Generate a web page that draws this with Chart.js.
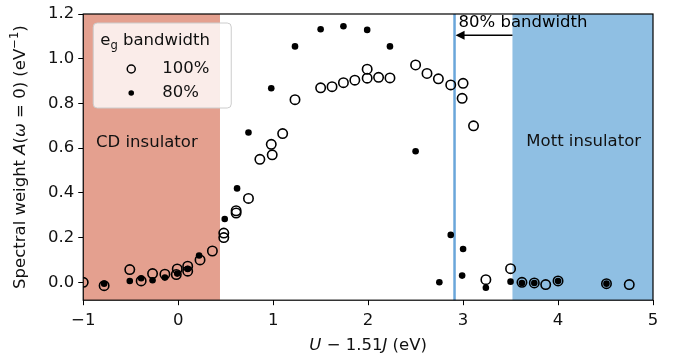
<!DOCTYPE html>
<html>
<head>
<meta charset="utf-8">
<script src="https://cdn.jsdelivr.net/npm/chart.js@4/dist/chart.umd.min.js"></script>
<style>
  html, body { margin: 0; padding: 0; background: #fff; }
  #wrap { width: 673px; height: 356px; }
</style>
</head>
<body>
<div id="wrap"><canvas id="myChart" width="673" height="356"></canvas></div>
<script>
// axis ticks
const xTicks = [-1, 0, 1, 2, 3, 4, 5];
const yTicks = [0.0, 0.2, 0.4, 0.6, 0.8, 1.0, 1.2];

// e_g bandwidth 100% (open circles)
const fullX = [-1.00, -0.78, -0.51, -0.39, -0.27, -0.14, -0.01, -0.02, 0.10, 0.10, 0.23, 0.36, 0.48, 0.48,
  0.61, 0.61, 0.74, 0.86, 0.99, 0.98, 1.10, 1.23, 1.50, 1.62, 1.74, 1.86, 1.99, 1.99, 2.11, 2.23,
  2.50, 2.62, 2.74, 2.87, 3.00, 2.99, 3.11, 3.24, 3.50, 3.62, 3.75, 3.87, 4.00, 4.51, 4.75];
const fullY = [0.000, -0.015, 0.057, 0.006, 0.039, 0.036, 0.060, 0.035, 0.072, 0.050, 0.100, 0.140, 0.220, 0.200,
  0.320, 0.310, 0.375, 0.550, 0.570, 0.617, 0.665, 0.817, 0.870, 0.875, 0.893, 0.904, 0.953, 0.913, 0.917, 0.914,
  0.972, 0.934, 0.910, 0.883, 0.890, 0.823, 0.700, 0.012, 0.061, 0.000, -0.003, -0.010, 0.006, -0.006, -0.010];

// e_g bandwidth 80% (filled dots)
const reducedX = [-0.78, -0.51, -0.39, -0.27, -0.14, -0.01, 0.10, 0.22, 0.49, 0.62, 0.74, 0.98, 1.23, 1.50,
  1.74, 1.99, 2.23, 2.50, 2.75, 2.87, 3.00, 2.99, 3.24, 3.50, 3.62, 3.75, 4.00, 4.51];
const reducedY = [-0.006, 0.006, 0.018, 0.009, 0.021, 0.039, 0.060, 0.120, 0.283, 0.420, 0.670, 0.868, 1.055, 1.132,
  1.145, 1.129, 1.055, 0.586, 0.000, 0.212, 0.149, 0.030, -0.024, 0.003, -0.003, -0.003, 0.006, -0.006];

// shaded phases and the 80% bandwidth boundary
const cdRegion = [-1, 0.44];
const mottRegion = [3.52, 5];
const bandwidthLine = 2.91;
const arrowY = 1.105;

const FONT = '"DejaVu Sans", sans-serif';
const FS = 16.5;

function drawRich(ctx, parts, x, y) {
  // parts: [text, style] with style 'n' normal, 'i' italic, 'sup', 'sub'
  let total = 0;
  const fontFor = s => (s === 'i' ? 'italic ' : '') + ((s === 'sup' || s === 'sub') ? FS * 0.7 : FS) + 'px ' + FONT;
  parts.forEach(p => { ctx.font = fontFor(p[1]); total += ctx.measureText(p[0]).width; });
  let cx = x - total / 2;
  ctx.textAlign = 'left';
  ctx.textBaseline = 'alphabetic';
  parts.forEach(p => {
    ctx.font = fontFor(p[1]);
    let dy = p[1] === 'sup' ? -FS * 0.42 : (p[1] === 'sub' ? FS * 0.22 : 0);
    ctx.fillText(p[0], cx, y + dy);
    cx += ctx.measureText(p[0]).width;
  });
}

const decor = {
  id: 'decor',
  beforeDatasetsDraw(chart) {
    const { ctx, chartArea: a, scales: { x, y } } = chart;
    ctx.save();
    ctx.fillStyle = '#e4a08f';
    ctx.fillRect(x.getPixelForValue(cdRegion[0]), a.top, x.getPixelForValue(cdRegion[1]) - x.getPixelForValue(cdRegion[0]), a.bottom - a.top);
    ctx.fillStyle = '#8fbfe3';
    ctx.fillRect(x.getPixelForValue(mottRegion[0]), a.top, x.getPixelForValue(mottRegion[1]) - x.getPixelForValue(mottRegion[0]), a.bottom - a.top);
    ctx.strokeStyle = '#6aa6da';
    ctx.lineWidth = 2.5;
    const bx = x.getPixelForValue(bandwidthLine);
    ctx.beginPath(); ctx.moveTo(bx, a.top); ctx.lineTo(bx, a.bottom); ctx.stroke();

    ctx.fillStyle = '#111';
    ctx.font = FS + 'px ' + FONT;
    ctx.textAlign = 'center';
    ctx.textBaseline = 'middle';
    ctx.fillText('CD insulator', x.getPixelForValue(-0.33), y.getPixelForValue(0.625));
    ctx.fillText('Mott insulator', x.getPixelForValue(4.27), y.getPixelForValue(0.63));

    // arrow
    const ay = y.getPixelForValue(arrowY);
    const x0 = x.getPixelForValue(mottRegion[0]), x1 = bx + 1;
    ctx.strokeStyle = '#000';
    ctx.lineWidth = 1.3;
    ctx.beginPath(); ctx.moveTo(x0, ay); ctx.lineTo(x1 + 8, ay); ctx.stroke();
    ctx.fillStyle = '#000';
    ctx.beginPath(); ctx.moveTo(x1, ay); ctx.lineTo(x1 + 9, ay - 4.5); ctx.lineTo(x1 + 9, ay + 4.5); ctx.closePath(); ctx.fill();
    ctx.textAlign = 'left';
    ctx.textBaseline = 'middle';
    ctx.fillText('80% bandwidth', bx + 4, y.getPixelForValue(1.16));
    ctx.restore();
  },
  afterDatasetsDraw(chart) {
    const { ctx, chartArea: a } = chart;
    ctx.save();
    // legend box
    const lx = a.left + 10, ly = a.top + 9, lw = 138, lh = 85, r = 4;
    ctx.beginPath();
    ctx.roundRect(lx, ly, lw, lh, r);
    ctx.fillStyle = 'rgba(255,255,255,0.8)';
    ctx.fill();
    ctx.strokeStyle = '#cccccc';
    ctx.lineWidth = 1;
    ctx.stroke();
    ctx.fillStyle = '#111';
    ctx.font = FS + 'px ' + FONT;
    ctx.textBaseline = 'alphabetic';
    ctx.textAlign = 'left';
    let tx = lx + 7;
    ctx.fillText('e', tx, ly + 22);
    tx += ctx.measureText('e').width;
    ctx.font = (FS * 0.7) + 'px ' + FONT;
    ctx.fillText('g', tx, ly + 26);
    tx += ctx.measureText('g').width;
    ctx.font = FS + 'px ' + FONT;
    ctx.fillText(' bandwidth', tx, ly + 22);
    // entries
    ctx.strokeStyle = '#000';
    ctx.lineWidth = 1.5;
    ctx.beginPath(); ctx.arc(lx + 38, ly + 46, 4, 0, Math.PI * 2); ctx.stroke();
    ctx.fillStyle = '#000';
    ctx.beginPath(); ctx.arc(lx + 38, ly + 70, 2.8, 0, Math.PI * 2); ctx.fill();
    ctx.fillStyle = '#111';
    ctx.textBaseline = 'middle';
    ctx.fillText('100%', lx + 69, ly + 46);
    ctx.fillText('80%', lx + 69, ly + 70);
    ctx.restore();
  },
  afterDraw(chart) {
    const { ctx, chartArea: a, scales: { x, y } } = chart;
    ctx.save();
    ctx.strokeStyle = '#000';
    ctx.lineWidth = 1.2;
    ctx.strokeRect(a.left, a.top, a.right - a.left, a.bottom - a.top);
    ctx.fillStyle = '#111';
    drawRich(ctx, [['U', 'i'], [' \u2212 1.51', 'n'], ['J', 'i'], [' (eV)', 'n']], (a.left + a.right) / 2, chart.height - 6);
    ctx.translate(25, (a.top + a.bottom) / 2);
    ctx.rotate(-Math.PI / 2);
    drawRich(ctx, [['Spectral weight ', 'n'], ['A', 'i'], ['(', 'n'], ['\u03c9', 'i'], [' = 0) (eV', 'n'], ['\u22121', 'sup'], [')', 'n']], 0, 0);
    ctx.restore();
  }
};

const ctx = document.getElementById('myChart').getContext('2d');
const myChart = new Chart(ctx, {
  type: 'scatter',
  data: {
    datasets: [{
      label: '100%',
      data: fullX.map((v, i) => ({ x: v, y: fullY[i] })),
      pointRadius: 4.7,
      pointBorderWidth: 1.6,
      pointBorderColor: '#000',
      pointBackgroundColor: 'rgba(0,0,0,0)',
      clip: 0
    }, {
      label: '80%',
      data: reducedX.map((v, i) => ({ x: v, y: reducedY[i] })),
      pointRadius: 3.3,
      pointBorderWidth: 0,
      pointBackgroundColor: '#000',
      clip: 0
    }]
  },
  options: {
    responsive: false,
    animation: false,
    events: [],
    layout: { padding: { left: 44, right: 20, top: 14, bottom: 19 } },
    plugins: { legend: { display: false }, tooltip: { enabled: false } },
    scales: {
      x: {
        type: 'linear',
        min: -1, max: 5,
        afterBuildTicks: s => { s.ticks = xTicks.map(v => ({ value: v })); },
        border: { display: false },
        grid: { drawOnChartArea: false, drawTicks: true, tickLength: 5, color: '#000', tickColor: '#000' },
        ticks: {
          color: '#111', padding: 6, maxRotation: 0,
          font: { family: FONT, size: FS },
          callback: v => (v < 0 ? '\u2212' + Math.abs(v) : String(v))
        }
      },
      y: {
        type: 'linear',
        min: -0.08, max: 1.2,
        afterBuildTicks: s => { s.ticks = yTicks.map(v => ({ value: v })); },
        border: { display: false },
        grid: { drawOnChartArea: false, drawTicks: true, tickLength: 5, color: '#000', tickColor: '#000' },
        ticks: {
          color: '#111', padding: 4,
          font: { family: FONT, size: FS },
          callback: v => v.toFixed(1)
        }
      }
    }
  },
  plugins: [decor]
});
</script>
</body>
</html>
